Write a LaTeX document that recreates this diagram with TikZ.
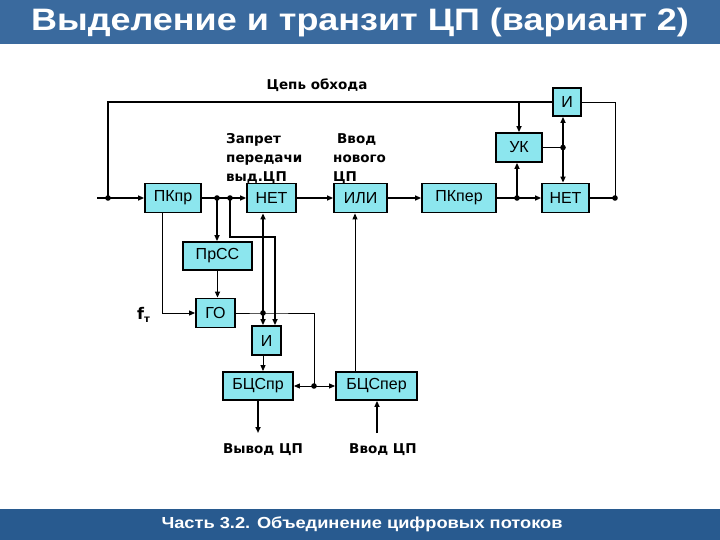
\documentclass[tikz,border=0pt]{standalone}
\usepackage{fontspec}
\setmainfont{Liberation Sans}
\newfontfamily\etiq{DejaVu Sans}
\usetikzlibrary{arrows.meta}
\definecolor{barratit}{RGB}{58,106,158}
\definecolor{barrapie}{RGB}{40,90,143}
\definecolor{cian}{RGB}{140,230,238}
\tikzset{
  bloque/.style={draw, line width=1.8pt, fill=cian, inner sep=0pt,
    font=\fontsize{16}{16}\selectfont},
  etiqueta/.style={inner sep=0pt, font=\etiq\bfseries\fontsize{13.5}{19}\selectfont},
  grueso/.style={line width=1.7pt},
  fino/.style={line width=0.9pt}
}
\begin{document}
\begin{tikzpicture}[x=1pt, y=-1pt, >={Triangle[length=6pt,width=5pt]}]
        \useasboundingbox (0,0) rectangle (720,540);
        % Barras de título y pie
        \fill[barratit] (0,0) rectangle (720,44);
        \fill[barrapie] (0,509) rectangle (720,540);
        \node[white, font=\bfseries\fontsize{31}{31}\selectfont] (titulo) at (360,22)
            {\scalebox{1.16}[1]{Выделение и транзит ЦП (вариант 2)}};
        \node[white, font=\bfseries\fontsize{16}{16}\selectfont] (pie) at (362,524)
            {\scalebox{1.14}[1]{Часть 3.2. Объединение цифровых потоков}};

        % Bloques de la fila principal
        \node[bloque, minimum width=56pt, minimum height=29pt] (pkpr) at (173,198) {ПКпр};
        \node[bloque, minimum width=49pt, minimum height=29pt] (net1) at (271.5,198) {НЕТ};
        \node[bloque, minimum width=53pt, minimum height=29pt] (ili) at (360.5,198) {ИЛИ};
        \node[bloque, minimum width=74pt, minimum height=29pt] (pkper) at (459,198) {ПКпер};
        \node[bloque, minimum width=47pt, minimum height=29pt] (net2) at (565.5,198) {НЕТ};
        \node[bloque, minimum width=46pt, minimum height=29pt] (uk) at (519,147.5) {УК};
        \node[bloque, minimum width=28pt, minimum height=28pt] (itop) at (567,102) {И};

        % Bloques inferiores
        \node[bloque, minimum width=69pt, minimum height=28pt] (prss) at (217.5,256) {ПрСС};
        \node[bloque, minimum width=39pt, minimum height=29pt] (go) at (215.5,313) {ГО};
        \node[bloque, minimum width=29pt, minimum height=29pt] (ibot) at (266.5,340.5) {И};
        \node[bloque, minimum width=70pt, minimum height=28pt] (bcspr) at (258,386) {БЦСпр};
        \node[bloque, minimum width=81pt, minimum height=28pt] (bcsper) at (376.5,386) {БЦСпер};

        % Rótulos
        \node[etiqueta, anchor=base] (obhod) at (317,90) {Цепь обхода};
        \node[etiqueta, anchor=base west, align=left] (zapret) at (226,182) {Запрет\\передачи\\выд.ЦП};
        \node[etiqueta, anchor=base west, align=left] (novyj) at (333,182) {\hspace*{4pt}Ввод\\нового\\ЦП};
        \node[etiqueta, anchor=base] (vyvod) at (263,453) {Вывод ЦП};
        \node[etiqueta, anchor=base] (vvod) at (383,453) {Ввод ЦП};
        \node[etiqueta, anchor=base west, font=\etiq\bfseries\fontsize{16}{16}\selectfont] (ft) at (137,319)
            {f\raisebox{-3pt}{\fontsize{10}{10}\selectfont т}};

        % Puntos de unión
        \coordinate (entrada) at (97,198);
        \coordinate (jdesvio) at (108,198);
        \coordinate (j1) at (217,198);
        \coordinate (j2) at (230,198);
        \coordinate (j3) at (517,198);
        \coordinate (j4) at (563,147.5);
        \coordinate (j5) at (615,198);
        \coordinate (j6) at (263,313);
        \coordinate (j7) at (314,386);
        \coordinate (c1) at (275,237);
        \coordinate (c2) at (355,300);
        \coordinate (fvyvod) at (258,433);
        \coordinate (fvvod) at (377,433);

        % Línea principal
        \draw[grueso, ->] (entrada) -- (pkpr.west);
        \draw[grueso] (pkpr.east) -- (j2);
        \draw[grueso, ->] (j2) -- (net1.west);
        \draw[grueso, ->] (net1.east) -- (ili.west);
        \draw[grueso, ->] (ili.east) -- (pkper.west);
        \draw[grueso] (pkper.east) -- (j3);
        \draw[grueso, ->] (j3) -- (net2.west);
        \draw[grueso] (net2.east) -- (j5);

        % Cadena de desvío
        \draw[grueso] (jdesvio) |- (itop.west);
        \draw[fino] (itop.east) -| (j5);
        \draw[grueso, ->] (uk.north |- itop.west) -- (uk.north);
        \draw[grueso] (uk.east) -- (j4);
        \draw[grueso, ->] (j4) -- (j4 |- itop.south);
        \draw[grueso, ->] (j4) -- (j4 |- net2.north);
        \draw[grueso, ->] (j3) -- (j3 |- uk.south);

        % Ramas hacia abajo
        \draw[grueso, ->] (j1) -- (j1 |- prss.north);
        \draw[grueso, ->] (j2) |- (c1) -- (c1 |- ibot.north);
        \draw[grueso, ->] (prss.south) -- (prss.south |- go.north);
        \draw[fino, ->] ([xshift=-11pt]pkpr.south) |- (go.west);
        \draw[fino] (go.east) -- (j6) -| (j7);
        \draw[grueso, ->] (j6) -- (j6 |- net1.south);
        \draw[grueso, ->] (j6) -- (j6 |- ibot.north);
        \draw[fino, ->] (j6 |- ibot.south) -- (j6 |- bcspr.north);
        \draw[fino, ->] (j7) -- (bcspr.east);
        \draw[fino, ->] (j7) -- (bcsper.west);
        \draw[fino, ->] (c2 |- bcsper.north) -- (c2 |- ili.south);
        \draw[grueso, ->] (bcspr.south -| fvyvod) -- (fvyvod);
        \draw[grueso, ->] (fvvod) -- (fvvod |- bcsper.south);

        \foreach \p in {jdesvio,j1,j2,j3,j4,j5,j6,j7}
            \fill (\p) circle (2.8pt);
\end{tikzpicture}
\end{document}
